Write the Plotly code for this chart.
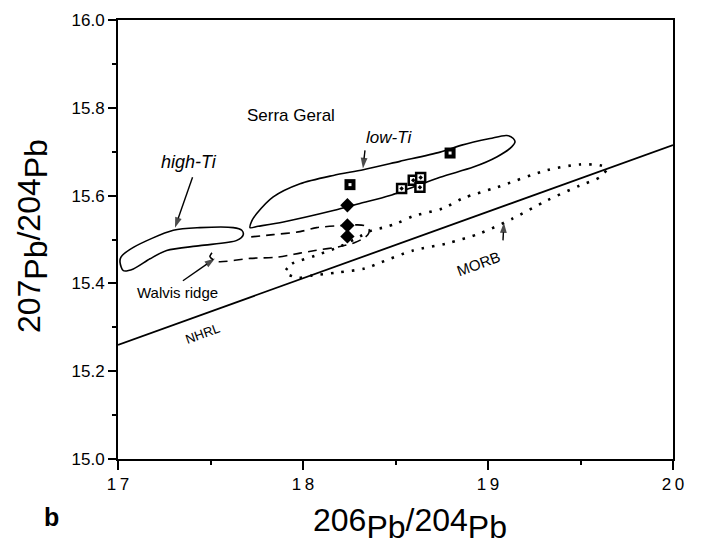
import plotly.graph_objects as go

# ---------------- data ----------------
high_ti_x = [17.016, 17.083, 17.299, 17.443, 17.623, 17.669, 17.677, 17.642, 17.443,
             17.263, 17.173, 17.083, 17.029, 17.011, 17.016]
high_ti_y = [15.460, 15.482, 15.521, 15.527, 15.527, 15.521, 15.511, 15.498, 15.486,
             15.475, 15.456, 15.433, 15.429, 15.448, 15.460]

low_ti_x = [17.714, 17.724, 17.750, 17.839, 17.984, 18.164, 18.326, 18.524, 18.741, 18.858,
            19.011, 19.101, 19.137, 19.146, 19.128, 19.047, 18.921, 18.741, 18.470, 18.308,
            18.164, 17.894, 17.757, 17.714]
low_ti_y = [15.527, 15.543, 15.559, 15.597, 15.627, 15.646, 15.659, 15.678, 15.699, 15.715,
            15.730, 15.737, 15.730, 15.722, 15.711, 15.688, 15.665, 15.642, 15.600, 15.582,
            15.566, 15.540, 15.530, 15.527]

walvis_x = [17.508, 17.497, 17.535, 17.714, 17.865, 17.984, 18.065, 18.200, 18.281, 18.324,
            18.351, 18.357, 18.330, 18.218, 18.074, 17.984, 17.839, 17.696]
walvis_y = [15.470, 15.461, 15.450, 15.457, 15.460, 15.469, 15.475, 15.484, 15.493, 15.502,
            15.511, 15.523, 15.532, 15.532, 15.527, 15.518, 15.511, 15.505]

morb_x = [17.914, 17.941, 17.984, 18.065, 18.200, 18.308, 18.373, 18.432, 18.508, 18.595,
          18.757, 18.865, 19.049, 19.319, 19.497, 19.605, 19.643, 19.605, 19.497, 19.319,
          19.135, 18.957, 18.778, 18.595, 18.416, 18.335, 18.189, 18.049, 17.973, 17.903, 17.914]
morb_y = [15.434, 15.445, 15.452, 15.463, 15.484, 15.507, 15.521, 15.527, 15.537, 15.553,
          15.571, 15.594, 15.619, 15.658, 15.671, 15.669, 15.662, 15.642, 15.623, 15.589,
          15.548, 15.514, 15.491, 15.475, 15.447, 15.434, 15.425, 15.418, 15.413, 15.425, 15.434]

nhrl_x = [17.0, 20.0]
nhrl_y = [15.26, 15.715]

diamond_x = [18.24, 18.24, 18.24]
diamond_y = [15.578, 15.532, 15.507]

filled_sq_x = [18.254, 18.795]
filled_sq_y = [15.625, 15.697]

open_sq_x = [18.533, 18.596, 18.632, 18.636]
open_sq_y = [15.616, 15.635, 15.619, 15.641]

x_tick_vals = [17, 18, 19, 20]
x_tick_text = ["1\u20097", "1\u20098", "1\u20099", "2\u20090"]

# pointer arrows: (tail x, tail y, head x, head y)
arrow_high_ti = (17.403, 15.642, 17.308, 15.527)
arrow_low_ti = (18.335, 15.703, 18.324, 15.662)
arrow_walvis = (17.351, 15.406, 17.524, 15.457)
arrow_morb = (19.081, 15.498, 19.086, 15.539)

FONT = "Liberation Sans, Arial, sans-serif"

fig = go.Figure()

def contour(x, y, dash="solid", width=1.6):
    fig.add_trace(go.Scatter(x=x, y=y, mode="lines",
                             line=dict(color="black", width=width, dash=dash, shape="spline",
                                       smoothing=0.8),
                             hoverinfo="skip", showlegend=False))

contour(high_ti_x, high_ti_y)
contour(low_ti_x, low_ti_y)
contour(walvis_x, walvis_y, dash="9px,6px", width=1.6)
contour(morb_x, morb_y, dash="2.5px,8px", width=2.6)

fig.add_trace(go.Scatter(x=nhrl_x, y=nhrl_y, mode="lines",
                         line=dict(color="black", width=1.8),
                         hoverinfo="skip", showlegend=False))

for a in (arrow_high_ti, arrow_low_ti, arrow_walvis, arrow_morb):
    fig.add_trace(go.Scatter(x=[a[0], a[2]], y=[a[1], a[3]], mode="lines+markers",
                             line=dict(color="black", width=1.4),
                             marker=dict(symbol=["circle", "arrow"], size=[0, 11],
                                         angleref="previous", color="black",
                                         line=dict(width=0)),
                             hoverinfo="skip", showlegend=False))

fig.add_trace(go.Scatter(x=diamond_x, y=diamond_y, mode="markers",
                         marker=dict(symbol="diamond", size=11, color="black"),
                         showlegend=False))
fig.add_trace(go.Scatter(x=open_sq_x, y=open_sq_y, mode="markers",
                         marker=dict(symbol="square-dot", size=9, color="white",
                                     line=dict(color="black", width=2.5)),
                         showlegend=False))
fig.add_trace(go.Scatter(x=filled_sq_x, y=filled_sq_y, mode="markers",
                         marker=dict(symbol="square", size=11, color="black"),
                         showlegend=False))
fig.add_trace(go.Scatter(x=filled_sq_x, y=filled_sq_y, mode="markers",
                         marker=dict(symbol="square", size=3, color="white"),
                         showlegend=False))

annotations = []

def label(text, x, y, size, angle=0, italic=False):
    t = f"<i>{text}</i>" if italic else text
    annotations.append(dict(text=t, x=x, y=y, xref="x", yref="y", showarrow=False,
                            textangle=angle, font=dict(family=FONT, size=size, color="black"),
                            xanchor="center", yanchor="middle"))

label("Serra Geral", 17.935, 15.783, 17)
label("low-Ti", 18.465, 15.733, 17, italic=True)
label("high-Ti", 17.384, 15.676, 18, italic=True)
label("Walvis ridge", 17.319, 15.379, 15)
label("NHRL", 17.459, 15.285, 13, angle=-20)
label("MORB", 18.951, 15.445, 15, angle=-20)

pb = "<sub><span style='font-size:32px'>Pb</span></sub>"
annotations.append(dict(text=f"206{pb}/204{pb}", xref="paper", yref="paper",
                        x=0.526, y=-0.148, showarrow=False, xanchor="center", yanchor="middle",
                        font=dict(family=FONT, size=32, color="black")))
annotations.append(dict(text=f"207{pb}/204{pb}", xref="paper", yref="paper",
                        x=-0.153, y=0.508, showarrow=False, xanchor="center", yanchor="middle",
                        textangle=-90, font=dict(family=FONT, size=32, color="black")))
annotations.append(dict(text="<b>b</b>", xref="paper", yref="paper",
                        x=-0.119, y=-0.132, showarrow=False, xanchor="center", yanchor="middle",
                        font=dict(family=FONT, size=25, color="black")))

fig.update_layout(
    width=702, height=550,
    margin=dict(l=118, r=29, t=20, b=91),
    plot_bgcolor="white", paper_bgcolor="white",
    font=dict(family=FONT, color="black"),
    annotations=annotations,
    xaxis=dict(range=[17, 20], showgrid=False, zeroline=False,
               showline=True, linecolor="black", linewidth=2, mirror=True,
               ticks="outside", ticklen=9, tickwidth=2, tickcolor="black",
               tickvals=x_tick_vals, ticktext=x_tick_text,
               tickfont=dict(family=FONT, size=17, color="black"),
               minor=dict(dtick=0.5, ticks="outside", ticklen=4, tickwidth=1.5,
                          tickcolor="black", showgrid=False)),
    yaxis=dict(range=[15.0, 16.0], showgrid=False, zeroline=False,
               showline=True, linecolor="black", linewidth=2, mirror=True,
               ticks="outside", ticklen=8, tickwidth=2, tickcolor="black",
               dtick=0.2, tick0=15.0, tickformat=".1f",
               tickfont=dict(family=FONT, size=17, color="black"),
               minor=dict(dtick=0.1, ticks="outside", ticklen=4, tickwidth=1.5,
                          tickcolor="black", showgrid=False)),
)

fig.write_html("out.html")
